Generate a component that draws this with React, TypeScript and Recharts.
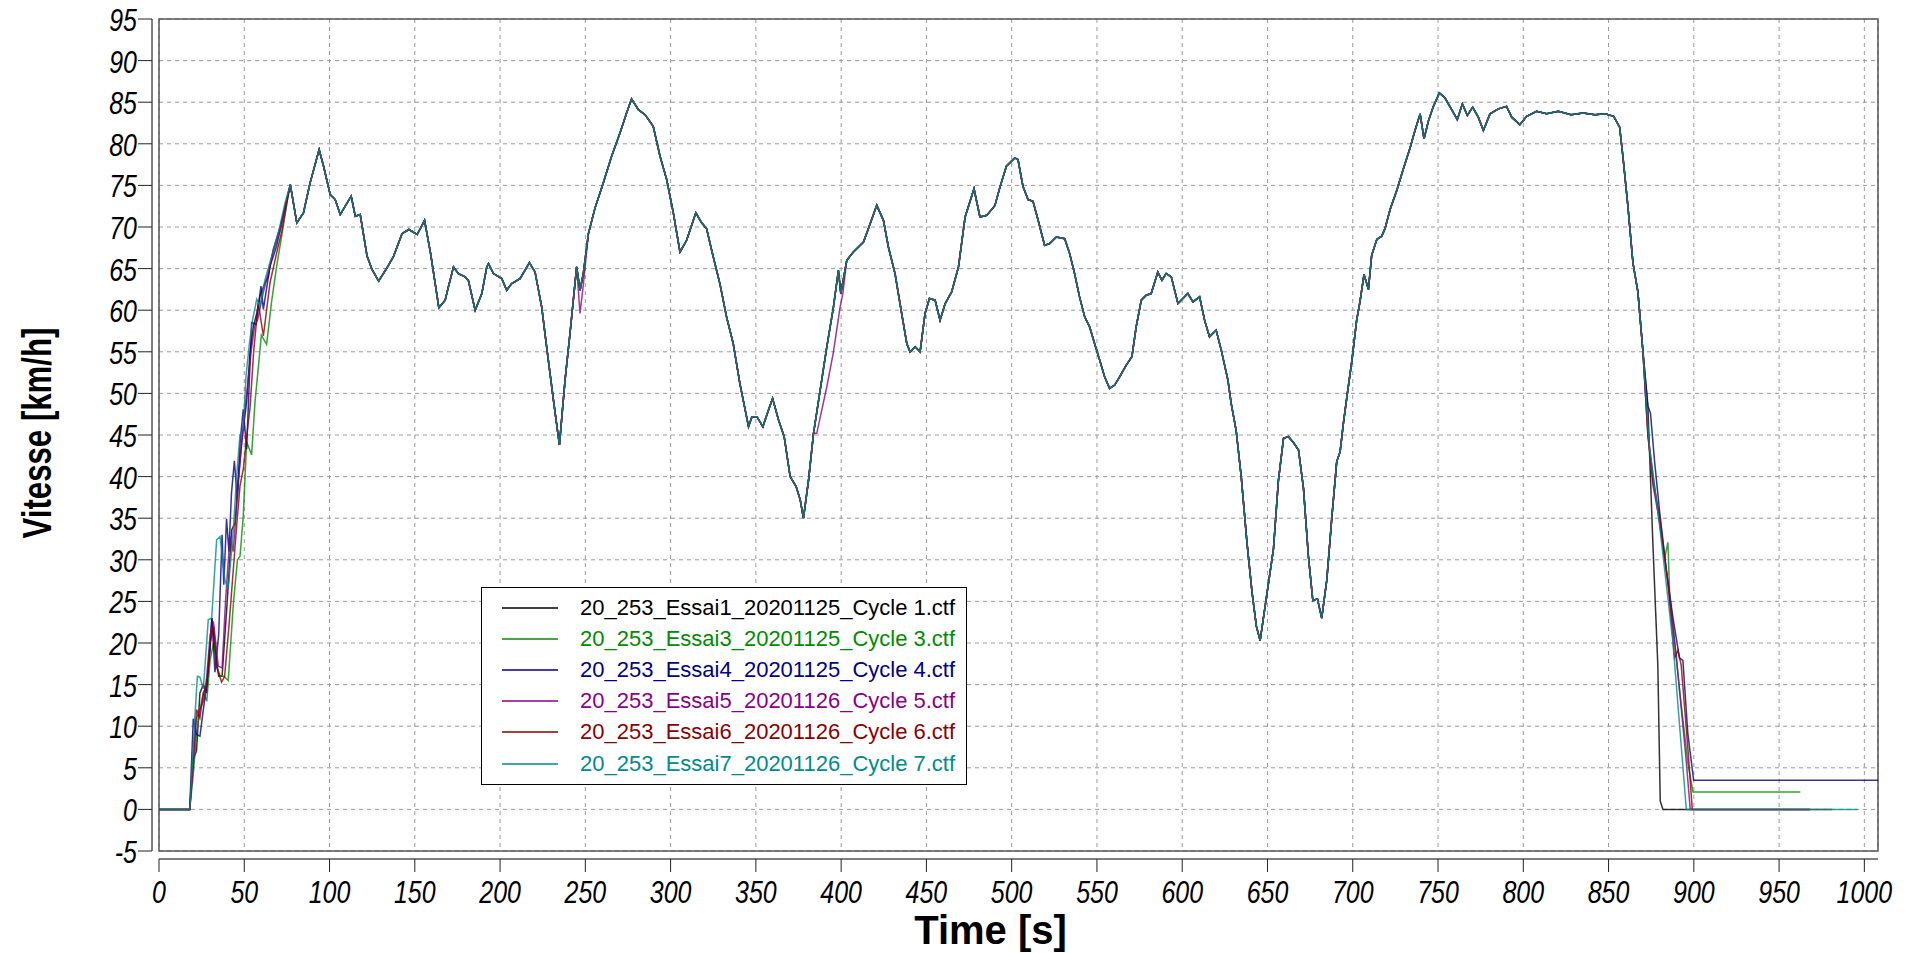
import React from 'react';
import {
  LineChart,
  Line,
  XAxis,
  YAxis,
  CartesianGrid,
  ReferenceLine,
  ReferenceArea,
  Legend,
} from 'recharts';

type Pt = [number, number];

const X_MAX = 1008;
const xTicks = [0, 50, 100, 150, 200, 250, 300, 350, 400, 450, 500, 550, 600, 650, 700, 750, 800, 850, 900, 950, 1000];
const yTicks = [-5, 0, 5, 10, 15, 20, 25, 30, 35, 40, 45, 50, 55, 60, 65, 70, 75, 80, 85, 90, 95];

// start of the cycle, each run differs
const start1: Pt[] = [[0, 0], [18, 0], [20, 6], [22, 7], [24, 14], [26, 15], [28, 14], [31, 23], [33, 19], [35, 16], [37, 16], [40, 25], [42.6, 33.6], [44.6, 34.4], [46.5, 39.7], [48.5, 44.2], [51.4, 49], [53.4, 55], [55.3, 58], [57.3, 59.6], [59.2, 61.7], [62, 63.2], [64.1, 64.1], [67, 67.3], [71, 70], [74, 72.5]];
const start3: Pt[] = [[0, 0], [18, 0], [20, 4], [22, 9], [24, 12], [26, 14], [28, 13], [30, 18], [32, 20], [34, 17], [36, 16], [38, 16], [40.6, 15.5], [43.6, 24.7], [46, 30], [47.5, 30.4], [49.4, 35.2], [51.4, 44.2], [54.3, 42.6], [56.3, 49], [58.2, 53], [60, 57], [63.1, 55.9], [66, 61], [69, 65.3], [72.9, 70.1], [75.5, 73.5]];
const start4: Pt[] = [[0, 0], [18, 0], [20.1, 10.9], [22, 9], [24, 8.8], [26, 12], [27.9, 14.9], [29.9, 19], [31, 23], [32.8, 16.5], [35, 21], [37, 33], [38, 27], [39.6, 34.9], [41, 31], [42.5, 38], [44.2, 41.9], [45.9, 37.3], [47.5, 44], [49.4, 48.1], [51.4, 43.3], [54.3, 58.5], [56.9, 58.3], [59.8, 62.9], [61.2, 60.1], [65.1, 65.3], [69, 67.7], [71, 69.7], [74, 72.5]];
const start5: Pt[] = [[0, 0], [18, 0], [20, 5], [22, 11], [24, 12], [26, 13], [28, 16], [30, 21], [31.9, 22.6], [34.8, 17.2], [37, 17], [39, 25], [41.6, 32.8], [43.5, 31], [45, 35], [47.5, 41.7], [50.4, 48.3], [52, 51], [54, 55], [56, 58], [58, 59], [61, 62], [64, 64.5], [67, 67], [71, 69.5], [74, 72.3]];
const start6: Pt[] = [[0, 0], [18, 0], [20, 6], [22, 12], [24, 11], [26, 14], [28, 15], [30, 20], [32, 22], [34, 17], [36.7, 15.3], [38.5, 16], [41, 22], [43.6, 28.9], [45.5, 34], [47.5, 38.9], [49.5, 41], [51.5, 45], [53.4, 48.3], [55.5, 55], [58.2, 60.9], [61.2, 56.9], [65.1, 63.3], [69, 66.9], [72, 69.5], [75, 73]];
const start7: Pt[] = [[0, 0], [18, 0], [19.7, 6], [21.1, 11.3], [22.5, 16], [24, 15.9], [26, 14.5], [28.9, 22.8], [30.9, 23], [33.8, 32.4], [35.8, 32.8], [38.7, 27.5], [40.6, 26.5], [43.6, 33.6], [45.5, 40], [47.5, 45], [49.4, 45.8], [51, 52], [53, 56], [55, 59], [57.3, 61.3], [59.2, 60.5], [62.2, 63.7], [66.1, 66.5], [70, 69.3], [73.9, 72.9]];

// common part of the speed trace
const midA: Pt[] = [[77, 75.1], [80.8, 70.5], [84.7, 71.7], [88.6, 75.3], [93.9, 79.3], [96.5, 77.3], [100.4, 73.9], [103.3, 73.3], [106.3, 71.5], [109.2, 72.5], [112.7, 73.7], [115.1, 71.3], [118, 71.5], [122, 66.5], [124.9, 64.9], [128.8, 63.5], [133.7, 65.1], [137.6, 66.5], [142.5, 69.2], [146.5, 69.7], [151.4, 69.1], [155.7, 70.8], [159.2, 66.9], [164.1, 60.3], [167.8, 61.2], [169.7, 62.8], [172.7, 65.2], [175.6, 64.4], [179.5, 64], [181.4, 63.6], [185.4, 60], [189.3, 62], [192.2, 65.2], [193.2, 65.6], [196.1, 64.4], [201, 63.8], [203.9, 62.4], [206.8, 63.2], [211.7, 63.8], [217.2, 65.7], [220.5, 64.6], [224.4, 60.4], [227.3, 55.6], [231.3, 49.2], [234.8, 43.8], [238.1, 51.6], [241, 57.2], [244.9, 65.2]];
const midB: Pt[] = [[246.9, 62.4], [248.8, 64.4]];
const midB5: Pt[] = [[246.9, 59.6], [248.8, 63]];
const midC: Pt[] = [[251.8, 69.2], [255.7, 72.3], [260.5, 75.3], [265.4, 78.5], [270.3, 81.3], [274.2, 83.7], [277.1, 85.4], [281.1, 84.1], [285, 83.5], [289.8, 82.1], [293.8, 78.5], [297.7, 75.7], [301.6, 71.7], [305.5, 67], [309.4, 68.4], [314.8, 71.7], [318.2, 70.5], [321.1, 69.8], [325, 66.4], [328.9, 63.2], [332.8, 59.2], [336.7, 56], [340.6, 51.2], [345.7, 46], [347.7, 47.2], [350.6, 47.2], [354.1, 46], [357.4, 48], [359.8, 49.4], [363.3, 46.8], [366.6, 44.8], [370.1, 40], [373.6, 38.8], [376, 37.2], [377.9, 35], [380.9, 39.6], [383.8, 45.2]];
const midD: Pt[] = [[387.7, 50.4], [391.6, 55.6], [395.5, 60.4], [398.4, 64.8], [399.8, 62]];
const midD5: Pt[] = [[385.7, 45.2], [391.6, 50.8], [395.5, 55], [399.4, 60.4], [401, 62]];
const midE: Pt[] = [[403.3, 66], [407.2, 67], [413.1, 68.2], [417, 70.4], [420.9, 72.6], [424.8, 70.8], [427.7, 67.6], [431.6, 64.4], [435.5, 59.6], [438.5, 56], [440.4, 55], [443.4, 55.6], [446.3, 55], [449.2, 59.6], [451.8, 61.4], [455.1, 61.2], [458, 58.8], [461, 60.8], [464.8, 62.2], [468.8, 65.2], [472.7, 71.2], [477.9, 74.6], [481.4, 71.2], [485.4, 71.4], [490.2, 72.6], [493, 74.7], [496.9, 77.3], [501.8, 78.3], [503.7, 78.1], [506.6, 74.9], [509.6, 73.3], [512.5, 73.1], [515.4, 70.9], [519.3, 67.8], [522.3, 68], [526.2, 68.8], [531.1, 68.6], [534, 66.8], [536.9, 64.4], [539.8, 61.6], [542.8, 59.2], [545.7, 58], [548.6, 56], [551.6, 54], [554.5, 52], [557.4, 50.6], [560.4, 51], [563.3, 52], [567.2, 53.4], [570.5, 54.4], [573, 58], [576, 61.2], [578.9, 61.8], [581.8, 62], [585.7, 64.6], [588.1, 63.6], [590.6, 64.4], [593.6, 64], [597.5, 60.8], [600.4, 61.4], [603.3, 62], [606.3, 61], [610.2, 61.6], [613.1, 58.8], [616, 56.8], [619.9, 57.6], [622.9, 55.2], [626.8, 51.6], [628.7, 48.8], [631.6, 45.6], [634.6, 40], [638, 32], [641, 26], [643.5, 22], [645.7, 20.3], [649.6, 25.8], [653.5, 31.3], [656.4, 39.5], [659.4, 44.6], [662.3, 44.8], [665.2, 44.1], [668.2, 43.2], [671.1, 38.6], [674, 30.4], [676.6, 25.1], [679.3, 25.3], [681.8, 23], [684.8, 27.6], [687.7, 35], [690.6, 41.8], [692.6, 43], [694.5, 46.4], [696.9, 50.1], [699.4, 53.8], [702.3, 58.8], [704.3, 61.1], [706.6, 64.3], [709.2, 62.5], [711.1, 66.6], [714.1, 68.5], [717, 68.9], [718.9, 69.8], [721.9, 72.1], [725.8, 74.4], [729.7, 77], [733.6, 79.5], [736.5, 81.6], [739.5, 83.6], [741.8, 80.6], [744.3, 82.7], [747.3, 84.5], [750.8, 86.1], [754.1, 85.5], [758, 84.1], [761.3, 82.9], [764.3, 84.8], [767.2, 83.4], [770.3, 84.4], [773.6, 83.2], [776.6, 81.6], [780.5, 83.6], [785.4, 84.2], [790.2, 84.5], [793.2, 83.2], [798, 82.3], [802, 83.3], [807.8, 83.9], [813.7, 83.6], [820.5, 83.9], [828, 83.5], [835, 83.7], [842, 83.5], [848, 83.6], [853, 83.3]];
const descent: Pt[] = [[856.5, 82], [858.4, 78.5], [861.3, 72.6], [864.3, 65.7], [867.2, 62.2], [870.1, 55.2]];

// end of the cycle, each run differs
const end1: Pt[] = [[873.1, 48.2], [876, 31.9], [878.9, 17.3], [880.3, 1], [881.9, 0], [968, 0]];
const end3: Pt[] = [[873.1, 45], [877, 38.8], [882.8, 30.1], [884.8, 32.1], [885.8, 26], [891.6, 14.4], [896.5, 5.6], [899.5, 2.1], [962.5, 2.1]];
const end4: Pt[] = [[873.1, 48.5], [874.6, 47.6], [877, 41.8], [879.9, 35.9], [883.8, 28.9], [887.7, 23.1], [891.6, 18.2], [893.6, 17.9], [896.5, 9.1], [899.9, 3.5], [1008, 3.5]];
const end5: Pt[] = [[873.1, 45], [876, 39], [880, 34.5], [885, 27], [889.7, 18.5], [895.6, 5.7], [897.9, 0], [968, 0]];
const end6: Pt[] = [[873.1, 45], [876, 39.5], [879.9, 35.3], [884.8, 27.2], [888.7, 18.2], [890.7, 19.1], [892.6, 17.3], [896.5, 7.4], [899.1, 0], [981, 0]];
const end7: Pt[] = [[873.1, 46], [874, 43.5], [877, 38.8], [879.9, 34.2], [887.7, 20.2], [895.6, 0], [996, 0]];

const names = [
  '20_253_Essai1_20201125_Cycle 1.ctf',
  '20_253_Essai3_20201125_Cycle 3.ctf',
  '20_253_Essai4_20201125_Cycle 4.ctf',
  '20_253_Essai5_20201126_Cycle 5.ctf',
  '20_253_Essai6_20201126_Cycle 6.ctf',
  '20_253_Essai7_20201126_Cycle 7.ctf',
];
const colors = ['#000000', '#008c00', '#00008b', '#8b008b', '#8b0000', '#008b8b'];

const toPts = (...segs: Pt[][]) => segs.flat().map(([t, v]) => ({ t, v }));

const series = [
  toPts(start1, midA, midB, midC, midD, midE, descent, end1),
  toPts(start3, midA, midB, midC, midD, midE, descent, end3),
  toPts(start4, midA, midB, midC, midD, midE, descent, end4),
  toPts(start5, midA, midB5, midC, midD5, midE, descent, end5),
  toPts(start6, midA, midB, midC, midD, midE, descent, end6),
  toPts(start7, midA, midB, midC, midD, midE, descent, end7),
];

const SANS = "'Liberation Sans', Arial, sans-serif";

// no narrow font installed: squeeze Liberation Sans horizontally
const YTick = (props: any) => {
  const { x, y, payload } = props;
  return (
    <g>
      <line x1={x - 21} x2={x - 7} y1={y} y2={y} stroke="#222" strokeWidth={1} />
      <text
        transform={`translate(${x - 22},${y + 12}) scale(0.78,1)`}
        textAnchor="end"
        fontFamily={SANS}
        fontStyle="italic"
        fontSize={32}
        fill="#000"
      >
        {payload.value}
      </text>
    </g>
  );
};

const XTick = (props: any) => {
  const { x, y, payload } = props;
  return (
    <g>
      <line x1={x} x2={x} y1={y + 8} y2={y + 21} stroke="#222" strokeWidth={1} />
      <text
        transform={`translate(${x},${y + 52}) scale(0.78,1)`}
        textAnchor="middle"
        fontFamily={SANS}
        fontStyle="italic"
        fontSize={32}
        fill="#000"
      >
        {payload.value}
      </text>
    </g>
  );
};

const LegendBox = () => (
  <div
    style={{
      width: 486,
      height: 198,
      border: '1px solid #000',
      background: '#fff',
      boxSizing: 'border-box',
      position: 'relative',
    }}
  >
    {names.map((name, i) => (
      <div
        key={name}
        style={{ position: 'absolute', left: 20, top: 4 + i * 31.2, height: 31, display: 'flex', alignItems: 'center' }}
      >
        <svg width={56} height={4}>
          <line x1={0} x2={56} y1={2} y2={2} stroke={colors[i]} strokeWidth={1.5} />
        </svg>
        <span style={{ marginLeft: 22, color: colors[i], fontSize: 22, fontFamily: SANS, whiteSpace: 'nowrap' }}>
          {name}
        </span>
      </div>
    ))}
  </div>
);

export default function App() {
  return (
    <div style={{ position: 'absolute', left: 0, top: 0, background: '#fff' }}>
      <LineChart width={1912} height={953} margin={{ top: 19, right: 34, left: 0, bottom: 0 }}>
        <CartesianGrid stroke="#999" strokeDasharray="4 4" />
        <XAxis
          type="number"
          dataKey="t"
          domain={[0, X_MAX]}
          ticks={xTicks}
          interval={0}
          allowDataOverflow
          height={102}
          axisLine={false}
          tickLine={false}
          tickSize={0}
          tickMargin={0}
          tick={<XTick />}
          label={{
            content: (p: any) => (
              <text
                x={p.viewBox.x + p.viewBox.width / 2 - 28}
                y={p.viewBox.y + p.viewBox.height - 9}
                textAnchor="middle"
                fontFamily={SANS}
                fontWeight="bold"
                fontSize={40}
                fill="#000"
              >
                Time [s]
              </text>
            ),
          }}
        />
        <YAxis
          type="number"
          domain={[-5, 95]}
          ticks={yTicks}
          interval={0}
          allowDataOverflow
          width={159}
          axisLine={false}
          tickLine={false}
          tickSize={0}
          tickMargin={0}
          tick={<YTick />}
          label={{
            content: (p: any) => (
              <text
                transform={`translate(${p.viewBox.x + 51},${p.viewBox.y + p.viewBox.height / 2 - 2}) rotate(-90) scale(0.78,1)`}
                textAnchor="middle"
                fontFamily={SANS}
                fontWeight="bold"
                fontSize={40}
                fill="#000"
              >
                Vitesse [km/h]
              </text>
            ),
          }}
        />
        <ReferenceLine x={-4.1} ifOverflow="visible" stroke="#555" strokeWidth={1.5} />
        <ReferenceLine y={-5.96} ifOverflow="visible" stroke="#555" strokeWidth={1.5} />
        {series.map((data, i) => (
          <Line
            key={names[i]}
            data={data}
            dataKey="v"
            name={names[i]}
            type="linear"
            stroke={colors[i]}
            strokeWidth={1.5}
            strokeOpacity={0.8}
            dot={false}
            activeDot={false}
            isAnimationActive={false}
          />
        ))}
        <ReferenceArea x1={0} x2={X_MAX} y1={-5} y2={95} fill="none" stroke="#555" strokeWidth={1.5} />
        <Legend
          layout="vertical"
          align="center"
          verticalAlign="middle"
          wrapperStyle={{ left: 481, top: 587, width: 486, height: 198 }}
          content={<LegendBox />}
        />
      </LineChart>
    </div>
  );
}
